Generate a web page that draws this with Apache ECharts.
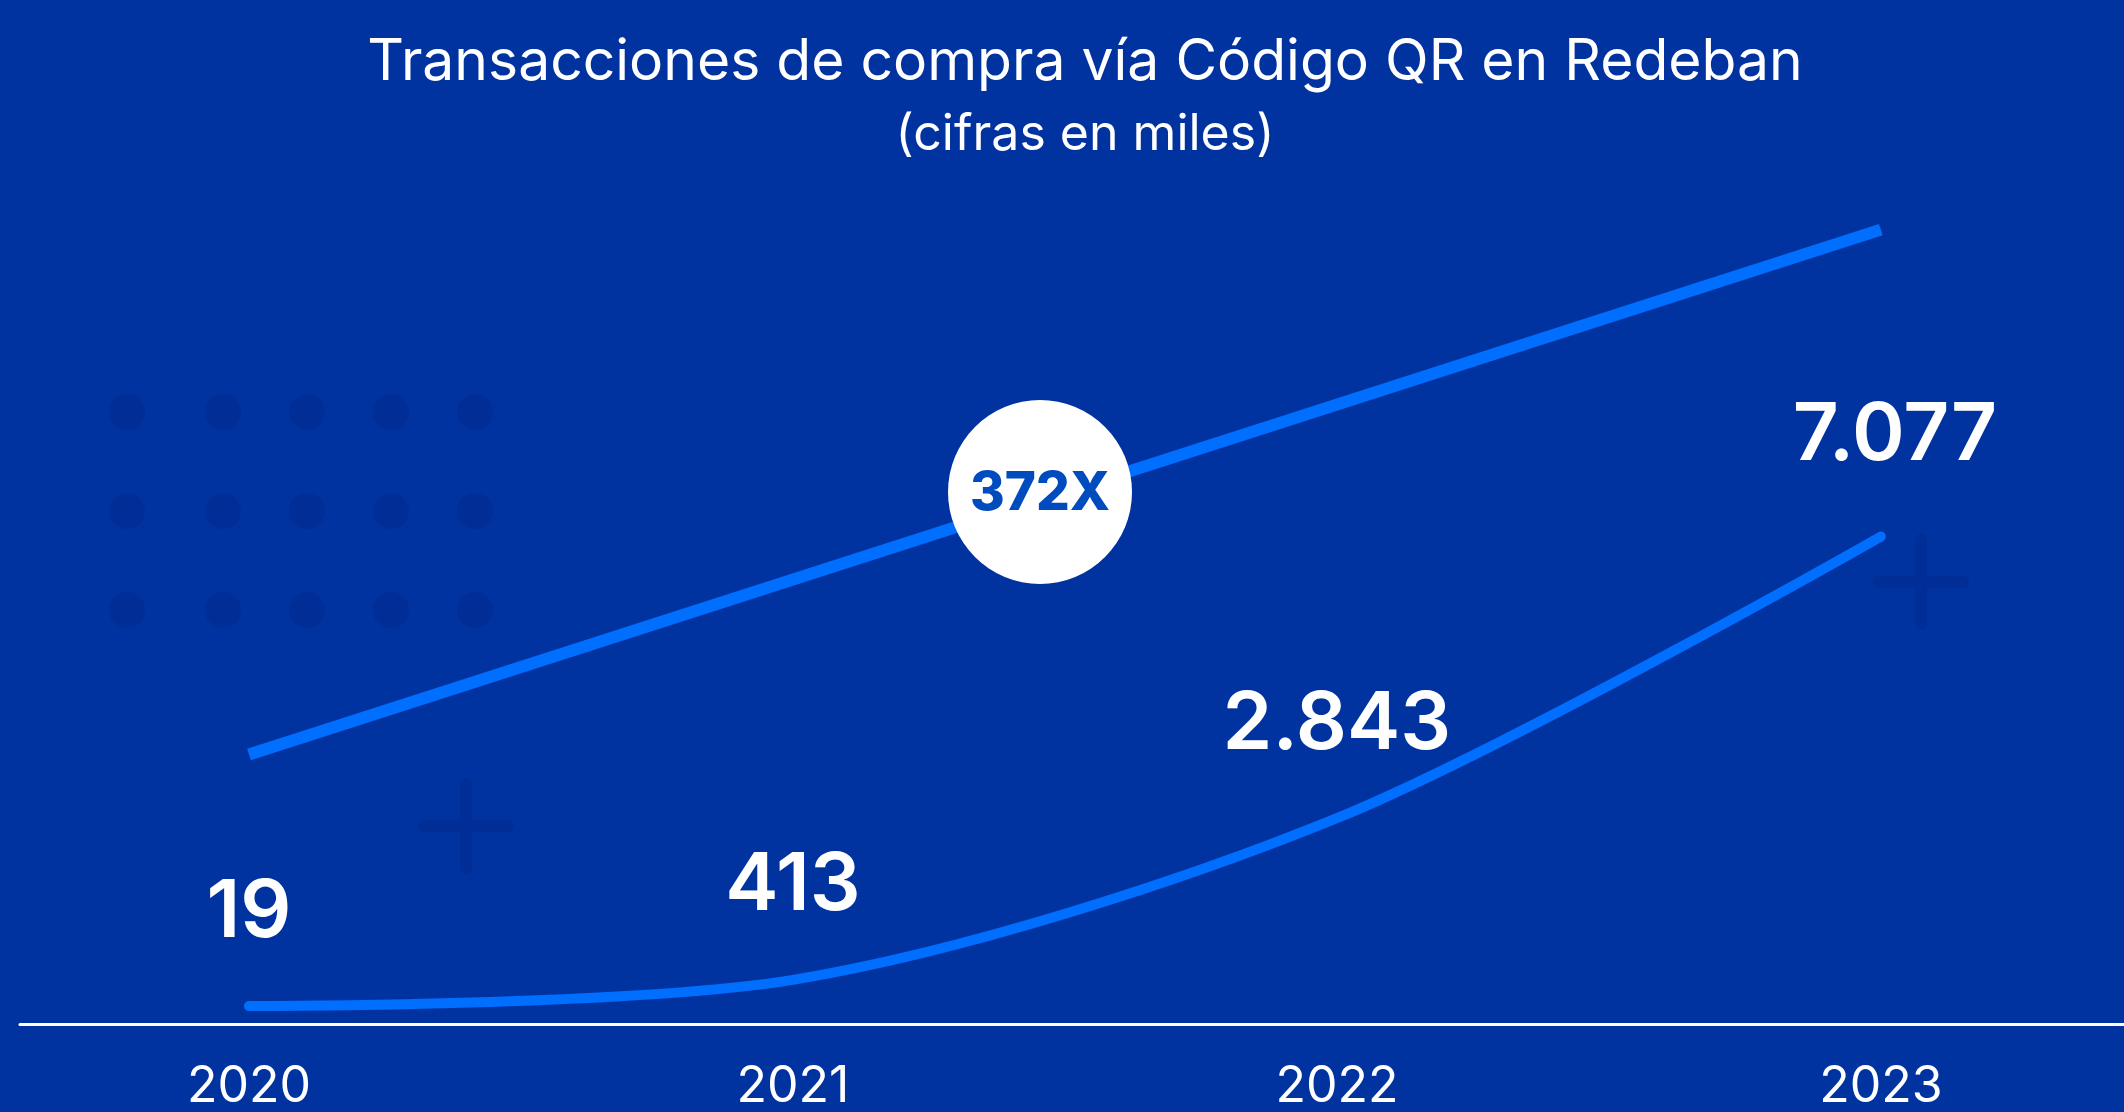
<!DOCTYPE html>
<html>
<head>
<meta charset="utf-8">
<script src="https://cdn.jsdelivr.net/npm/echarts@6/dist/echarts.min.js"></script>
<style>
  html, body { margin: 0; padding: 0; background: #0033A0; }
  #chart { width: 2124px; height: 1112px; }
</style>
</head>
<body>
<div id="chart"></div>
<script>
const BG = "#0033A0";
const LINE = "#006EFF";
const DOT = "#002E96";
const FONT = 'Inter, "Open Sans", sans-serif';

// Transacciones de compra vía Código QR (miles)
const years = [2020, 2021, 2022, 2023];
const transacciones = [19, 413, 2843, 7077];
// decorative growth line, only its two ends
const tendenciaYears = [2020, 2023];
const tendencia = [3800, 11690];
const multiplo = "372X";

const fmt = (v) => String(v).replace(/\B(?=(\d{3})+(?!\d))/g, ".");

// dotted pattern + plus signs in the background
const dotCols = [127, 223, 307, 391, 475];
const dotRows = [412, 511, 610];
const deco = [];
dotRows.forEach((y) => dotCols.forEach((x) => {
  deco.push({ type: "circle", shape: { cx: x, cy: y, r: 18 }, style: { fill: DOT }, z: 0 });
}));
[[466, 826], [1921, 582]].forEach(([cx, cy]) => {
  const st = { stroke: DOT, lineWidth: 12, lineCap: "round" };
  deco.push({ type: "line", shape: { x1: cx, y1: cy - 42, x2: cx, y2: cy + 42 }, style: st, z: 0 });
  deco.push({ type: "line", shape: { x1: cx - 42, y1: cy, x2: cx + 42, y2: cy }, style: st, z: 0 });
});
// multiplier badge on the growth line
deco.push({ type: "circle", shape: { cx: 1040, cy: 492, r: 92 }, style: { fill: "#FFFFFF" }, z: 100 });
deco.push({
  type: "text", x: 1040, y: 494, z: 101,
  style: {
    text: multiplo, fill: "#004BBE", font: "800 53px " + FONT,
    align: "center", verticalAlign: "middle"
  }
});

const chart = echarts.init(document.getElementById("chart"), null, { renderer: "canvas" });
chart.setOption({
  backgroundColor: BG,
  animation: false,
  title: {
    text: "Transacciones de compra vía Código QR en Redeban",
    subtext: "(cifras en miles)",
    left: 1080,
    textAlign: "center",
    top: 26,
    itemGap: 12,
    textStyle: { color: "#FFFFFF", fontFamily: FONT, fontSize: 57, fontWeight: 400, lineHeight: 64 },
    subtextStyle: { color: "#FFFFFF", fontFamily: FONT, fontSize: 50, fontWeight: 400, lineHeight: 56 }
  },
  grid: { left: 20, right: 0, top: 209, bottom: 87 },
  xAxis: {
    type: "value",
    min: 2019.579,
    max: 2023.447,
    splitLine: { show: false },
    axisTick: { show: false },
    axisLine: { show: true, onZero: false, lineStyle: { color: "#FFFFFF", width: 3 } },
    axisLabel: {
      customValues: years,
      showMinLabel: true,
      showMaxLabel: true,
      color: "#FFFFFF",
      fontFamily: FONT,
      fontSize: 50,
      margin: 38,
      formatter: (v) => String(v)
    }
  },
  yAxis: {
    type: "value",
    min: -250,
    max: 12000,
    show: false,
    splitLine: { show: false }
  },
  graphic: deco,
  series: [
    {
      name: "tendencia",
      type: "line",
      data: tendenciaYears.map((y, i) => [y, tendencia[i]]),
      symbol: "none",
      lineStyle: { color: LINE, width: 12, cap: "butt" },
      silent: true,
      z: 3
    },
    {
      name: "Transacciones",
      type: "line",
      data: years.map((y, i) => [y, transacciones[i]]),
      smooth: 0.3,
      symbol: "circle",
      symbolSize: 1,
      showSymbol: true,
      itemStyle: { color: LINE },
      lineStyle: { color: LINE, width: 10, cap: "round" },
      label: {
        show: true,
        position: "top",
        distance: 58,
        color: "#FFFFFF",
        fontFamily: FONT,
        fontWeight: 600,
        fontSize: 80,
        lineHeight: 80,
        formatter: (p) => fmt(p.value[1])
      },
      labelLayout: (p) => (p.dataIndex === years.length - 1
        ? { dx: 14, dy: -2, hideOverlap: false }
        : { dx: 0, dy: 5, hideOverlap: false }),
      z: 4
    }
  ]
});
</script>
</body>
</html>
